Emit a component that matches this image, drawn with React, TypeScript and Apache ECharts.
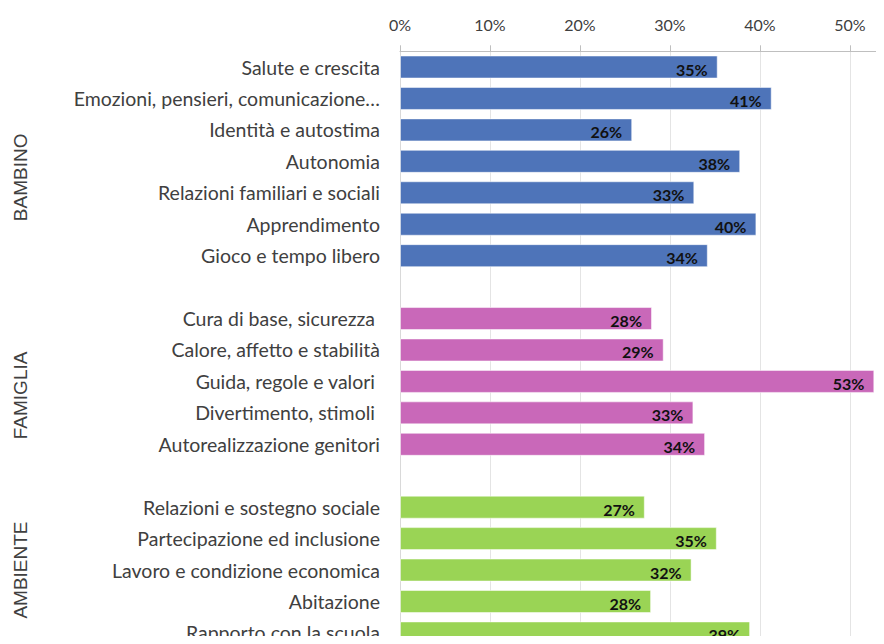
import React, { useEffect, useRef } from "react";
import * as echarts from "echarts";

const bambinoCats = [
  "Salute e crescita",
  "Emozioni, pensieri, comunicazione…",
  "Identità e autostima",
  "Autonomia",
  "Relazioni familiari e sociali",
  "Apprendimento",
  "Gioco e tempo libero",
];
const bambinoVals = [35.3, 41.3, 25.8, 37.8, 32.7, 39.6, 34.2];

const famigliaCats = [
  "Cura di base, sicurezza ",
  "Calore, affetto e stabilità",
  "Guida, regole e valori ",
  "Divertimento, stimoli ",
  "Autorealizzazione genitori",
];
const famigliaVals = [28.0, 29.3, 52.7, 32.6, 33.9];

const ambienteCats = [
  "Relazioni e sostegno sociale",
  "Partecipazione ed inclusione",
  "Lavoro e condizione economica",
  "Abitazione",
  "Rapporto con la scuola",
];
const ambienteVals = [27.2, 35.2, 32.4, 27.9, 38.9];

const groupNames = ["BAMBINO", "FAMIGLIA", "AMBIENTE"];
const groupColors = ["#4e74b9", "#c968b9", "#9ad455"];
const xTicks = [0, 10, 20, 30, 40, 50];

const FONT = "Lato, 'Open Sans', sans-serif";

export default function App() {
  const ref = useRef<HTMLDivElement>(null);

  useEffect(() => {
    if (!ref.current) return;
    const chart = echarts.init(ref.current, undefined, { renderer: "svg" });

    const groups = [
      { cats: bambinoCats, vals: bambinoVals },
      { cats: famigliaCats, vals: famigliaVals },
      { cats: ambienteCats, vals: ambienteVals },
    ];
    const categories: string[] = [];
    const data: any[] = [];
    const groupRanges: [number, number][] = [];
    groups.forEach((g, gi) => {
      if (gi > 0) {
        categories.push(" ".repeat(gi));
        data.push(null);
      }
      const start = categories.length;
      g.cats.forEach((c, i) => {
        categories.push(c);
        data.push({
          value: g.vals[i],
          itemStyle: { color: groupColors[gi] },
        });
      });
      groupRanges.push([start, categories.length - 1]);
    });

    const gridTop = 51.3;
    const rowH = 31.44;
    const gridLeft = 400;
    const pxPerPct = 9;
    const xMax = 55;

    const groupOffsets = [16, 14, 0];
    const graphics = groupNames.map((name, gi) => {
      const [a, b] = groupRanges[gi];
      const cy = gridTop + ((a + b + 1) / 2) * rowH + groupOffsets[gi];
      return {
        type: "text",
        x: 20,
        y: cy,
        rotation: Math.PI / 2,
        style: {
          text: name,
          fill: "#404040",
          font: `19px 'Liberation Sans', Arial, sans-serif`,
          align: "center",
          verticalAlign: "middle",
        },
      };
    });

    chart.setOption({
      animation: false,
      backgroundColor: "#ffffff",
      grid: {
        left: gridLeft,
        top: gridTop,
        width: pxPerPct * xMax,
        height: rowH * categories.length,
        containLabel: false,
      },
      xAxis: {
        type: "value",
        position: "top",
        min: 0,
        max: xMax,
        interval: 10,
        axisLine: { show: true, lineStyle: { color: "#bfbfbf", width: 1 } },
        axisTick: { show: true, length: 6, lineStyle: { color: "#bfbfbf" } },
        splitLine: { show: true, lineStyle: { color: "#e4e4e4", width: 1 } },
        axisLabel: {
          formatter: (v: number) => (xTicks.includes(v) ? `${v}%` : ""),
          showMaxLabel: false,
          color: "#404040",
          fontSize: 16,
          fontFamily: FONT,
          margin: 19,
        },
      },
      yAxis: {
        type: "category",
        inverse: true,
        data: categories,
        axisLine: { show: true, lineStyle: { color: "#d9d9d9" } },
        axisTick: { show: false },
        splitLine: { show: false },
        axisLabel: {
          color: "#404040",
          fontSize: 19.5,
          fontFamily: FONT,
          margin: 20,
          interval: 0,
        },
      },
      series: [
        {
          type: "bar",
          data,
          barWidth: 23,
          itemStyle: { borderColor: "rgba(255,255,255,0.5)", borderWidth: 1 },
          label: {
            show: true,
            position: "insideRight",
            distance: 10,
            offset: [0, 2],
            formatter: (p: any) => `${Math.round(p.value)}%`,
            color: "#111111",
            fontSize: 16,
            fontWeight: "bold",
            fontFamily: FONT,
          },
        },
      ],
      graphic: graphics,
    });

    return () => chart.dispose();
  }, []);

  return (
    <div
      style={{
        width: 884,
        height: 644,
        margin: -8,
        overflow: "hidden",
        position: "relative",
      }}
    >
      <div ref={ref} style={{ width: 910, height: 670 }} />
    </div>
  );
}
